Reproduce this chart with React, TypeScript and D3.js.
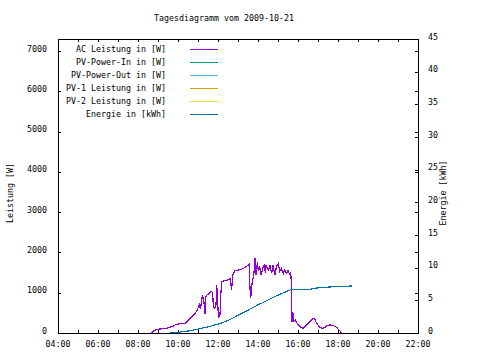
import React from "react";
import * as d3 from "d3";

const TITLE = "Tagesdiagramm vom 2009-10-21";
const Y_LABEL = "Leistung [W]";
const Y2_LABEL = "Energie [kWh]";

const legendLabels = [
  "AC Leistung in [W]",
  "PV-Power-In in [W]",
  "PV-Power-Out in [W]",
  "PV-1 Leistung in [W]",
  "PV-2 Leistung in [W]",
  "Energie in [kWh]",
];
const legendColors = ["#9400d3", "#009e73", "#56b4e9", "#e69f00", "#f0e442", "#0072b2"];

const xTickHours = ["04:00", "05:00", "06:00", "07:00", "08:00", "09:00", "10:00", "11:00", "12:00", "13:00", "14:00", "15:00", "16:00", "17:00", "18:00", "19:00", "20:00", "21:00", "22:00"];
const xTickLabels = ["04:00", "06:00", "08:00", "10:00", "12:00", "14:00", "16:00", "18:00", "20:00", "22:00"];
const yTicks = [0, 1000, 2000, 3000, 4000, 5000, 6000, 7000];
const y2Ticks = [0, 5, 10, 15, 20, 25, 30, 35, 40, 45];

const acTimes = [
  "08:41", "08:46", "08:55", "09:06", "09:20", "09:31", "09:45", "09:51", "10:05", "10:21",
  "10:31", "10:41", "10:51", "10:58", "11:01", "11:04", "11:07", "11:10", "11:13", "11:17",
  "11:19", "11:21", "11:23", "11:27", "11:31", "11:35", "11:40", "11:44", "11:46", "11:50",
  "11:54", "11:56", "11:58", "12:01", "12:04", "12:06", "12:08", "12:11", "12:20", "12:30",
  "12:36", "12:39", "12:41", "12:44", "12:51", "13:00", "13:10", "13:16", "13:25", "13:31",
  "13:34", "13:36", "13:38", "13:40", "13:42", "13:45", "13:48", "13:51", "13:54", "13:58",
  "14:01", "14:05", "14:09", "14:14", "14:18", "14:22", "14:24", "14:28", "14:32", "14:36",
  "14:41", "14:45", "14:48", "14:51", "14:55", "15:01", "15:05", "15:10", "15:16", "15:20",
  "15:26", "15:30", "15:36", "15:38", "15:41", "15:42", "15:44", "15:46", "15:48", "15:52",
  "15:56", "16:06", "16:16", "16:26", "16:36", "16:46", "16:50", "16:56", "17:06", "17:16",
  "17:26", "17:36", "17:46", "17:56", "18:03", "18:11",
];
const acValues = [
  0, 50, 80, 100, 110, 130, 170, 200, 230, 240,
  320, 400, 490, 560, 650, 700, 600, 740, 925, 850,
  640, 470, 900, 940, 970, 1000, 1030, 1000, 650, 620,
  700, 1190, 1000, 400, 420, 450, 900, 1275, 1300, 1320,
  1355, 1200, 1070, 1440, 1545, 1560, 1580, 1605, 1650, 1690,
  1720, 1100, 860, 1000, 1230, 1350, 1500, 1850, 1440, 1750,
  1560, 1640, 1440, 1600, 1690, 1500, 1690, 1600, 1560, 1690,
  1480, 1690, 1550, 1440, 1640, 1730, 1520, 1600, 1480, 1560,
  1480, 1545, 1440, 1520, 1110, 280, 350, 490, 300, 320,
  255, 160, 115, 200, 280, 365, 350, 240, 130, 115,
  175, 200, 180, 140, 75, 0,
];

const energyTimes = [
  "09:36", "10:00", "10:30", "11:00", "11:30", "12:00", "12:30", "13:00", "13:30", "14:00",
  "14:30", "15:00", "15:30", "15:41", "16:40", "16:45", "17:50", "18:41",
];
const energyValues = [
  0.0, 0.1, 0.3, 0.6, 0.95, 1.35, 1.9, 2.7, 3.5, 4.3,
  5.05, 5.8, 6.45, 6.7, 6.7, 6.84, 7.1, 7.19,
];

const parse = d3.timeParse("%H:%M");
const FONT = "'DejaVu Sans Mono', monospace";

export default function App() {
  const L = 58, R = 418, T = 39, B = 333;
  const x = d3.scaleTime().domain([parse("04:00")!, parse("22:00")!]).range([L, R]);
  const y = d3.scaleLinear().domain([0, 7300]).range([B, T]);
  const y2 = d3.scaleLinear().domain([0, 45]).range([B, T]);

  const acData = acTimes.map((t, i) => [parse(t)!, acValues[i]] as [Date, number]);
  const enData = energyTimes.map((t, i) => [parse(t)!, energyValues[i]] as [Date, number]);

  const acLine = d3.line<[Date, number]>().x(d => x(d[0])).y(d => y(d[1]));
  const enLine = d3.line<[Date, number]>().x(d => x(d[0])).y(d => y2(d[1]));

  const fs = 8.3;
  const px = (v: number) => Math.round(v) + 0.5;

  return (
    <svg width={480} height={360} style={{ position: "absolute", left: 0, top: 0, background: "#fff" }} fontFamily={FONT} fontSize={fs}>
      <rect x={0} y={0} width={480} height={360} fill="#fff" />
      <text x={224} y={21} textAnchor="middle">{TITLE}</text>

      {/* x ticks */}
      {xTickHours.map(h => {
        const xx = px(x(parse(h)!));
        return (
          <g key={h} stroke="#000" shapeRendering="crispEdges">
            <line x1={xx} x2={xx} y1={B} y2={B - 3} />
            <line x1={xx} x2={xx} y1={T} y2={T + 3} />
          </g>
        );
      })}
      {xTickLabels.map(h => (
        <text key={h} x={x(parse(h)!)} y={347} textAnchor="middle">{h}</text>
      ))}

      {/* y ticks */}
      {yTicks.map(v => {
        const yy = px(y(v));
        return (
          <g key={v}>
            <line x1={L} x2={L + 3} y1={yy} y2={yy} stroke="#000" shapeRendering="crispEdges" />
            <line x1={R} x2={R - 3} y1={yy} y2={yy} stroke="#000" shapeRendering="crispEdges" />
            <text x={47} y={y(v) + 0.5} textAnchor="end">{v}</text>
          </g>
        );
      })}
      {y2Ticks.map(v => {
        const yy = px(y2(v));
        return (
          <g key={v}>
            <line x1={R} x2={R - 3} y1={yy} y2={yy} stroke="#000" shapeRendering="crispEdges" />
            <text x={428} y={y2(v) + 0.5} textAnchor="start">{v}</text>
          </g>
        );
      })}

      {/* axis labels */}
      <text transform={`translate(13,193) rotate(-90)`} textAnchor="middle">{Y_LABEL}</text>
      <text transform={`translate(446,193) rotate(-90)`} textAnchor="middle">{Y2_LABEL}</text>

      {/* data */}
      <path d={acLine(acData) ?? ""} fill="none" stroke={legendColors[0]} strokeWidth={1.2} shapeRendering="crispEdges" />
      <path d={enLine(enData) ?? ""} fill="none" stroke={legendColors[5]} strokeWidth={1.2} shapeRendering="crispEdges" />

      {/* legend */}
      {legendLabels.map((lab, i) => {
        const yy = 49.5 + i * 13;
        return (
          <g key={lab}>
            <text x={166} y={yy + 2.5} textAnchor="end">{lab}</text>
            <line x1={190} x2={218} y1={yy} y2={yy} stroke={legendColors[i]} strokeWidth={1} shapeRendering="crispEdges" />
          </g>
        );
      })}

      {/* border */}
      <rect x={L + 0.5} y={T + 0.5} width={R - L} height={B - T} fill="none" stroke="#000" shapeRendering="crispEdges" />
    </svg>
  );
}
